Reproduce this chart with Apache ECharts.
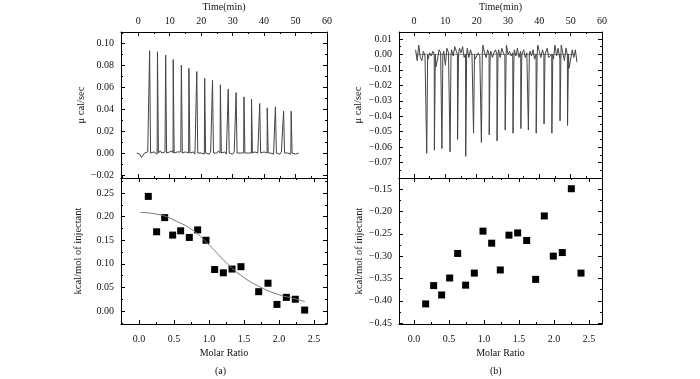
<!DOCTYPE html>
<html>
<head>
<meta charset="utf-8">
<script src="https://cdn.jsdelivr.net/npm/echarts@6/dist/echarts.min.js"></script>
<style>html,body{margin:0;background:#fff}#main{width:700px;height:379px}</style>
</head>
<body>
<div id="main"></div>
<script>
// ---- panel (a) ----
// injection peaks of the raw thermogram (min, ucal/sec)
var peakTimeA = [3.6, 6.1, 8.7, 11.1, 13.7, 16.1, 18.6, 21.1, 23.6, 26.1, 28.6, 31.1, 33.6, 36.0, 38.6, 41.0, 43.6, 46.2, 48.6];
var peakHeightA = [0.093, 0.092, 0.089, 0.085, 0.080, 0.077, 0.074, 0.068, 0.066, 0.062, 0.058, 0.055, 0.051, 0.049, 0.045, 0.041, 0.042, 0.038, 0.038];
// baseline read every 0.5 min starting at -0.5 min
var baseStartA = -0.5;
var baseA = [0.000, 0.001, -0.001, -0.004, -0.003, 0.000, -0.001, 0.001, 0.000, 0.001, -0.001, 0.001, 0.000, -0.001, 0.001, 0.002,
  0.000, -0.001, 0.001, 0.000, -0.001, 0.001, 0.000, 0.002, 0.000, -0.001, 0.001, 0.000, 0.001, 0.000, -0.001, 0.001,
  0.002, 0.000, -0.001, 0.000, 0.001, -0.001, 0.000, 0.001, -0.001, 0.000, 0.001, -0.001, 0.001, 0.000, -0.001, 0.001,
  0.000, -0.001, 0.001, 0.000, 0.002, 0.000, -0.001, 0.000, 0.001, -0.001, 0.000, 0.001, 0.000, -0.001, 0.001, 0.000,
  0.001, -0.001, 0.000, 0.001, 0.000, -0.001, 0.001, 0.000, 0.001, 0.000, -0.001, 0.001, 0.002, 0.000, 0.001, 0.000,
  -0.001, 0.001, 0.000, 0.001, -0.001, 0.000, 0.001, -0.001, 0.000, 0.001, 0.000, -0.001, 0.001, 0.000, 0.001, -0.001,
  0.000, 0.001, -0.001, 0.000, 0.001, -0.001, 0.000, 0.000];
// integrated heats
var ratioA = [0.133, 0.252, 0.367, 0.481, 0.595, 0.719, 0.838, 0.957, 1.081, 1.205, 1.329, 1.457, 1.710, 1.843, 1.971, 2.105, 2.233, 2.367];
var heatA = [0.243, 0.168, 0.198, 0.161, 0.170, 0.156, 0.172, 0.150, 0.088, 0.081, 0.089, 0.094, 0.041, 0.059, 0.014, 0.029, 0.025, 0.002];
var fitRatioA = [0.02, 0.30, 0.54, 0.78, 1.01, 1.25, 1.49, 1.73, 1.97, 2.20, 2.37];
var fitHeatA = [0.209, 0.204, 0.190, 0.170, 0.139, 0.102, 0.072, 0.051, 0.036, 0.027, 0.020];

// ---- panel (b) ----
var peakTimeB = [4.05, 6.5, 8.9, 11.5, 13.9, 16.5, 19.0, 21.5, 24.0, 26.5, 29.1, 31.6, 34.1, 36.5, 39.0, 41.5, 44.0, 46.6, 49.0];
var peakHeightB = [-0.064, -0.062, -0.061, -0.063, -0.055, -0.066, -0.051, -0.057, -0.052, -0.056, -0.049, -0.051, -0.048, -0.049, -0.051, -0.045, -0.051, -0.043, -0.046];
var baseStartB = 0.5;
var baseB = [0.003, -0.004, 0.006, -0.002, -0.004, 0.002, -0.001, 0.001, -0.003, 0.001, -0.001, 0.002, 0.000, -0.008, -0.003, 0.003,
  0.001, -0.002, 0.002, -0.007, 0.004, 0.001, 0.000, 0.003, -0.001, 0.005, 0.002, -0.004, 0.004, 0.001, 0.005, -0.002,
  0.001, 0.004, -0.002, 0.003, 0.000, -0.001, -0.003, -0.002, 0.001, -0.001, 0.004, 0.006, 0.001, -0.002, 0.003, -0.003,
  0.002, -0.002, 0.001, 0.003, 0.000, 0.003, -0.002, 0.004, 0.001, -0.001, 0.006, 0.000, 0.002, -0.001, 0.001, 0.003,
  -0.001, 0.004, -0.002, 0.002, -0.001, 0.003, -0.002, 0.001, -0.004, 0.002, -0.001, 0.003, -0.003, 0.000, 0.006, 0.002,
  -0.002, 0.003, -0.008, 0.000, 0.004, -0.002, -0.001, 0.005, -0.003, 0.006, -0.001, 0.004, -0.002, 0.006, 0.001, -0.004,
  0.004, -0.001, -0.009, -0.003, 0.003, -0.002, 0.003, -0.005];
var zeroLineB = [[0.5, 0], [51.5, 0]];
var ratioB = [0.167, 0.281, 0.395, 0.510, 0.624, 0.738, 0.862, 0.986, 1.110, 1.233, 1.357, 1.481, 1.610, 1.738, 1.862, 1.990, 2.119, 2.248, 2.386];
var heatB = [-0.407, -0.366, -0.387, -0.349, -0.294, -0.365, -0.338, -0.244, -0.271, -0.331, -0.253, -0.248, -0.265, -0.352, -0.210, -0.300, -0.292, -0.149, -0.338];

var FONT = 'Liberation Serif';

// baseline samples + one sharp spike per injection
function trace(start, base, peakT, peakV) {
  var pts = [];
  base.forEach(function (v, i) {
    var t = start + i * 0.5;
    var hit = peakT.some(function (p) { return t > p - 0.1 && t < p + 0.4; });
    if (!hit) pts.push([t, v]);
  });
  peakT.forEach(function (p, i) {
    pts.push([p - 0.05, 0], [p, peakV[i]], [p + 0.3, 0]);
  });
  pts.sort(function (a, b) { return a[0] - b[0]; });
  return pts;
}
function zip(xs, ys) {
  return xs.map(function (x, i) { return [x, ys[i]]; });
}
function fmt2(v) { return (v < 0 ? '\u2212' : '') + Math.abs(v).toFixed(2); }
function fmt1(v) { return (v < 0 ? '\u2212' : '') + Math.abs(v).toFixed(1); }

function axis(grid, pos, min, max, split, o) {
  o = o || {};
  var vertical = pos == 'left' || pos == 'right';
  return {
    type: 'value', gridIndex: grid, position: pos, min: min, max: max, splitNumber: split,
    name: o.name || '', nameLocation: 'middle', nameGap: o.gap || 0, nameRotate: vertical ? 90 : 0,
    nameTextStyle: { fontFamily: FONT, fontSize: vertical ? 10.5 : 10, color: '#111' },
    axisLine: { show: true, onZero: false, lineStyle: { color: '#000', width: 1 } },
    axisTick: { show: true, inside: true, length: 4, lineStyle: { color: '#000' } },
    minorTick: { show: true, splitNumber: 2, length: 2, lineStyle: { color: '#000' } },
    splitLine: { show: false },
    axisLabel: {
      show: !!o.labels, margin: o.margin || 7, fontFamily: FONT, fontSize: 10, color: '#111',
      showMinLabel: false, showMaxLabel: !!o.maxLabel, formatter: o.fmt
    }
  };
}

var timeFmt = function (v) { return String(v); };

var option = {
  animation: false,
  backgroundColor: '#fff',
  grid: [
    { left: 121, top: 32, width: 206, height: 146 },
    { left: 121, top: 178, width: 206, height: 146 },
    { left: 399, top: 32, width: 203, height: 146 },
    { left: 399, top: 178, width: 203, height: 146 }
  ],
  xAxis: [
    axis(0, 'top', -5.5, 60, 6, { labels: true, maxLabel: true, fmt: timeFmt, name: 'Time(min)', gap: 20, margin: 6 }),
    axis(0, 'bottom', -5.5, 60, 6),
    axis(1, 'bottom', -0.257, 2.686, 6, { labels: true, fmt: fmt1, name: 'Molar Ratio', gap: 24, margin: 10 }),
    axis(1, 'top', -0.257, 2.686, 6),
    axis(2, 'top', -4.8, 60, 6, { labels: true, maxLabel: true, fmt: timeFmt, name: 'Time(min)', gap: 20, margin: 6 }),
    axis(2, 'bottom', -4.8, 60, 6),
    axis(3, 'bottom', -0.214, 2.686, 6, { labels: true, fmt: fmt1, name: 'Molar Ratio', gap: 24, margin: 10 }),
    axis(3, 'top', -0.214, 2.686, 6)
  ],
  yAxis: [
    axis(0, 'left', -0.0227, 0.11, 7, { labels: true, fmt: fmt2, name: '\u03bc cal/sec', gap: 30 }),
    axis(0, 'right', -0.0227, 0.11, 7),
    axis(1, 'left', -0.0275, 0.282, 6, { labels: true, fmt: fmt2, name: 'kcal/mol of injectant', gap: 37 }),
    axis(1, 'right', -0.0275, 0.282, 6),
    axis(2, 'left', -0.08, 0.0145, 9, { labels: true, fmt: fmt2, name: '\u03bc cal/sec', gap: 35 }),
    axis(2, 'right', -0.08, 0.0145, 9),
    axis(3, 'left', -0.452, -0.125, 6, { labels: true, fmt: fmt2, name: 'kcal/mol of injectant', gap: 33 }),
    axis(3, 'right', -0.452, -0.125, 6)
  ],
  graphic: [
    { type: 'text', left: 215, top: 366, style: { text: '(a)', font: '10px "Liberation Serif"', fill: '#111' } },
    { type: 'text', left: 490, top: 366, style: { text: '(b)', font: '10px "Liberation Serif"', fill: '#111' } }
  ],
  series: [
    { type: 'line', xAxisIndex: 0, yAxisIndex: 0, data: trace(baseStartA, baseA, peakTimeA, peakHeightA),
      symbol: 'none', lineStyle: { color: '#444', width: 1 } },
    { type: 'scatter', xAxisIndex: 2, yAxisIndex: 2, data: zip(ratioA, heatA),
      symbol: 'rect', symbolSize: 7, itemStyle: { color: '#000', opacity: 1 } },
    { type: 'line', xAxisIndex: 2, yAxisIndex: 2, data: zip(fitRatioA, fitHeatA), smooth: true,
      symbol: 'none', lineStyle: { color: '#777', width: 1 } },
    { type: 'line', xAxisIndex: 4, yAxisIndex: 4, data: zeroLineB,
      symbol: 'none', lineStyle: { color: '#888', width: 1 } },
    { type: 'line', xAxisIndex: 4, yAxisIndex: 4, data: trace(baseStartB, baseB, peakTimeB, peakHeightB),
      symbol: 'none', lineStyle: { color: '#444', width: 1 } },
    { type: 'scatter', xAxisIndex: 6, yAxisIndex: 6, data: zip(ratioB, heatB),
      symbol: 'rect', symbolSize: 7, itemStyle: { color: '#000', opacity: 1 } }
  ]
};

var myChart = echarts.init(document.getElementById('main'));
myChart.setOption(option);
</script>
</body>
</html>
